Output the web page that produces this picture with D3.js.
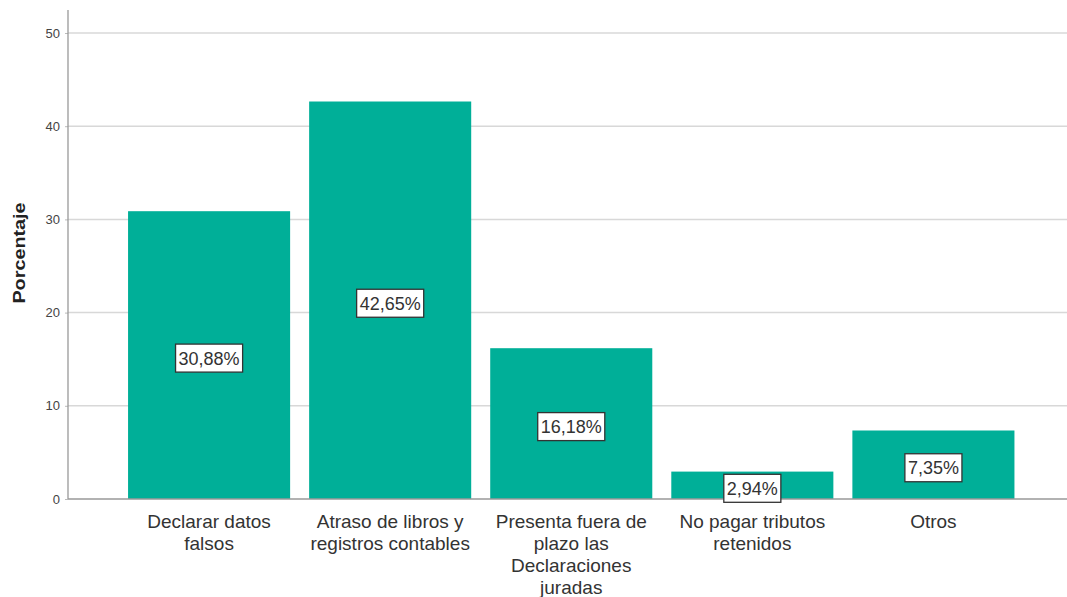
<!DOCTYPE html>
<html><head><meta charset="utf-8">
<script src="https://cdn.jsdelivr.net/npm/d3@7"></script>
<style>body{margin:0;background:#fff}svg{display:block;font-family:"Liberation Sans",Arial,sans-serif}</style>
</head><body>
<svg id="c" width="1067" height="597"></svg>
<script>
const categories = [
  ["Declarar datos","falsos"],
  ["Atraso de libros y","registros contables"],
  ["Presenta fuera de","plazo las","Declaraciones","juradas"],
  ["No pagar tributos","retenidos"],
  ["Otros"]
];
const values = [30.88, 42.65, 16.18, 2.94, 7.35];
const labels = ["30,88%","42,65%","16,18%","2,94%","7,35%"];
const yTicks = [0,10,20,30,40,50];

const svg = d3.select("#c");
const x = d3.scaleBand().domain(d3.range(values.length)).range([119,1023.5]).paddingInner(0.105).paddingOuter(0.05);
const y = d3.scaleLinear().domain([0,50]).range([499,33]);

// gridlines
svg.append("g").selectAll("line").data(yTicks.slice(1)).join("line")
  .attr("x1",68).attr("x2",1067).attr("y1",d=>y(d)).attr("y2",d=>y(d))
  .attr("stroke","#d8d8d8").attr("stroke-width",1.5);

// bars
svg.append("g").selectAll("rect").data(values).join("rect")
  .attr("x",(d,i)=>x(i)).attr("width",x.bandwidth())
  .attr("y",d=>y(d)).attr("height",d=>y(0)-y(d))
  .attr("fill","#00af98");

// axes
const ya = d3.axisLeft(y).tickValues(yTicks).tickSize(3).tickPadding(5).tickFormat(d3.format("d"));
const gy = svg.append("g").attr("transform","translate(68,0)").call(ya);
gy.select(".domain").remove();
gy.selectAll("line").attr("stroke","#bbb");
gy.selectAll("text").attr("font-size",13).attr("fill","#444").attr("font-family","Liberation Sans, Arial, sans-serif");
svg.append("line").attr("x1",68).attr("x2",68).attr("y1",10).attr("y2",y(0)).attr("stroke","#999").attr("stroke-width",1.3);
svg.append("line").attr("x1",68).attr("x2",1067).attr("y1",y(0)).attr("y2",y(0)).attr("stroke","#999").attr("stroke-width",1.3);

// y label
svg.append("text").attr("transform","translate(25,253) rotate(-90) scale(1.2,1)").attr("text-anchor","middle")
  .attr("font-size",16.5).attr("font-weight","bold").attr("fill","#222").text("Porcentaje");

// category labels
const cl = svg.append("g").selectAll("text").data(categories).join("text")
  .attr("x",(d,i)=>x(i)+x.bandwidth()/2).attr("y",528).attr("text-anchor","middle")
  .attr("font-size",19).attr("fill","#333");
cl.selectAll("tspan").data(d=>d).join("tspan")
  .attr("x",function(){return this.parentNode.getAttribute("x");})
  .attr("dy",(d,i)=>i===0?0:22).text(d=>d);

// value labels
const vl = svg.append("g").selectAll("g").data(values).join("g")
  .attr("transform",(d,i)=>`translate(${x(i)+x.bandwidth()/2},${(y(0)+y(d))/2+3})`);
vl.each(function(d,i){
  const g=d3.select(this);
  const r=g.append("rect").attr("fill","#fff").attr("stroke","#333").attr("stroke-width",1.3);
  const t=g.append("text").attr("text-anchor","middle").attr("dy","0.36em").attr("font-size",18).attr("fill","#333").text(labels[i]);
  const w=t.node().getComputedTextLength()+6;
  r.attr("x",-w/2).attr("y",-14).attr("width",w).attr("height",28);
});
</script>
</body></html>
